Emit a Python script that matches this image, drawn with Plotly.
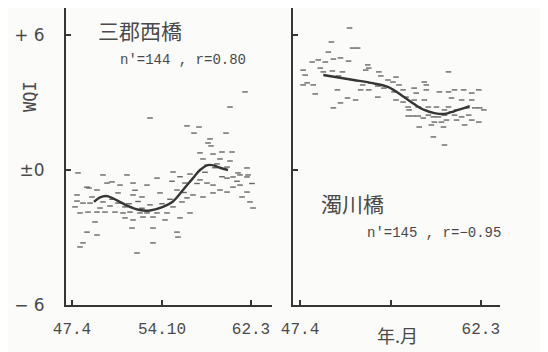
import plotly.graph_objects as go

# x values: months since Showa 47.4 (Apr 1972); y values: WQI
tick_months = [0, 90, 179]
tick_labels_left = ["47.4", "54.10", "62.3"]
tick_labels_right = ["47.4", "", "62.3"]
y_ticks = [-6, 0, 6]
y_tick_labels = ["\u2212 6", "\u00b10", "+ 6"]

# 三郡西橋 scatter
sanbu_month = [173,158,78,115,127,122,154,138,136,139,128,141,150,160,131,148,158,135,145,155,175,166,176,101,85,55,31,6,
               118,15,35,40,48,61,75,17,25,5,46,61,88,5,11,3,18,31,38,46,53,28,8,16,25,33,43,51,58,68,75,85,95,101,110,115,
               121,131,141,148,155,161,168,175,178,181,141,135,128,155,161,168,175,113,105,118,108,93,81,71,61,53,23,60,81,105,
               106,15,25,11,8,81,65,20,40,57,66,70,78,90,98,63,70,100,108,112,125,133,143,150,165,170,180]
sanbu_wqi = [3.47,2.8,2.31,1.96,1.91,1.64,1.64,1.38,1.2,1.07,0.76,0.71,0.8,0.8,0.49,0.49,0.4,0.22,0.27,0.13,0.09,-0.13,-0.22,-0.09,-0.36,-0.22,-0.22,-0.13,
             -0.18,-0.76,-0.58,-0.53,-0.67,-0.58,-0.67,-0.8,-0.89,-1.11,-1.02,-1.11,-1.02,-1.38,-1.47,-1.64,-1.47,-1.42,-1.6,-1.47,-1.64,-1.69,-1.91,-1.87,-1.87,-1.87,-1.87,-1.91,-1.87,-1.91,-1.91,-1.91,-1.91,-1.64,-1.42,-1.24,
             -1.11,-1.2,-1.02,-0.89,-0.98,-0.76,-0.67,-0.98,-1.42,-1.69,-0.67,-0.58,-0.44,-0.36,-0.31,-0.22,-0.31,-0.58,-0.89,-1.91,-2.13,-2.22,-2.09,-2.09,-2.22,-2.13,-2.31,-2.58,-2.58,-2.76,
             -2.98,-2.76,-2.89,-3.24,-3.42,-3.24,-3.69,-1.2,-1.3,-1.5,-1.4,-1.7,-1.55,-1.5,-1.3,-0.9,-1.2,-0.5,-0.3,-1.0,-0.6,-0.1,0.1,-0.3,-0.5,-1.2,-0.6]

# 三郡西橋 trend
sanbu_trend_month = [22,28,35,45,55,68,78,91,101,111,121,128,136,142,148,156]
sanbu_trend_wqi = [-1.42,-1.22,-1.16,-1.35,-1.58,-1.78,-1.8,-1.64,-1.4,-0.89,-0.36,0.0,0.22,0.2,0.1,0.0]

# 濁川橋 scatter
nigori_month = [49,31,28,52,57,3,5,12,18,25,33,40,48,7,13,15,3,20,23,32,42,67,68,65,78,80,87,95,92,98,38,47,53,62,70,77,83,
                60,68,37,47,55,40,33,102,105,115,107,108,113,123,125,125,147,138,147,153,162,170,177,150,160,170,173,178,182,
                107,112,117,122,127,132,137,143,153,160,167,133,140,145,155,170,177,118,130,142,163,132,143,127,135,147,155,165,
                117,143,150,93,77,95,123,113,102]
nigori_wqi = [6.31,5.69,5.24,5.42,5.42,4.44,4.22,4.8,4.89,4.8,4.93,4.98,4.84,3.87,3.78,3.38,3.78,4.53,4.36,4.4,4.36,4.67,4.53,4.44,4.36,4.18,4.0,4.13,3.91,3.78,4.18,4.04,4.0,3.78,3.87,3.73,3.64,
              3.56,3.56,3.56,3.2,3.11,2.98,2.76,3.56,3.24,3.42,2.8,2.67,3.11,3.11,3.56,3.78,4.36,3.47,3.47,3.56,3.56,3.42,3.56,3.2,3.11,3.11,2.76,2.76,2.67,
              2.4,2.4,2.4,2.31,2.44,2.36,2.36,2.44,2.44,2.36,2.44,2.13,2.13,2.22,2.22,2.22,2.13,1.91,2.0,1.91,2.0,1.47,1.11,2.8,2.8,2.8,2.67,2.76,
              2.8,2.67,2.58,3.47,3.24,3.11,3.91,3.64,3.02]

# 濁川橋 trend
nigori_trend_month = [23,53,70,87,103,113,123,133,143,153,168]
nigori_trend_wqi = [4.22,4.0,3.87,3.69,3.24,2.93,2.67,2.53,2.49,2.62,2.84]

# page body has an 8px default margin: size the figure to fit the 548x352 window
OFF = 8
W, H = 548 - OFF, 352 - OFF


def fx(px):
    return (px - OFF) / W


def fy(py):
    return 1 - (py - OFF) / H


DOT = "#666666"
INK = "#363636"
TXT = "#4a4a4a"

fig = go.Figure()
marker = dict(symbol="line-ew", size=4, color=DOT, line=dict(color=DOT, width=1.4))
fig.add_trace(go.Scatter(x=sanbu_month, y=sanbu_wqi, mode="markers", marker=marker, xaxis="x", yaxis="y"))
fig.add_trace(go.Scatter(x=sanbu_trend_month, y=sanbu_trend_wqi, mode="lines",
                         line=dict(color=INK, width=2.4, shape="spline"), xaxis="x", yaxis="y"))
fig.add_trace(go.Scatter(x=nigori_month, y=nigori_wqi, mode="markers", marker=marker, xaxis="x2", yaxis="y2"))
fig.add_trace(go.Scatter(x=nigori_trend_month, y=nigori_trend_wqi, mode="lines",
                         line=dict(color=INK, width=2.4, shape="spline"), xaxis="x2", yaxis="y2"))

# y axis: pixel 305 -> -6, 22.5 px per unit, top at pixel 8
ydom = [fy(305), 1.0]
ytop = -6 + (305 - 8) / 22.5
xfont = dict(family="Liberation Mono", size=16, color=TXT)
common_x = dict(showgrid=False, zeroline=False, showline=True, linecolor=INK, linewidth=2,
                ticks="inside", ticklen=5, tickwidth=1.5, tickcolor=INK, tickvals=tick_months,
                tickfont=xfont, ticklabelstandoff=8, fixedrange=True, automargin=False)
common_y = dict(showgrid=False, zeroline=False, showline=True, linecolor=INK, linewidth=2,
                ticks="inside", ticklen=5, tickwidth=1.5, tickcolor=INK, tickvals=y_ticks,
                range=[-6, ytop], domain=ydom, fixedrange=True, automargin=False)

fig.update_layout(
    width=W, height=H, margin=dict(l=0, r=0, t=0, b=0, autoexpand=False),
    paper_bgcolor="#fbfbfa", plot_bgcolor="rgba(0,0,0,0)", showlegend=False,
    xaxis=dict(common_x, domain=[fx(66), fx(272)], range=[-6, 200], ticktext=tick_labels_left, anchor="y"),
    yaxis=dict(common_y, ticktext=y_tick_labels, anchor="x", ticklabelstandoff=16,
               tickfont=dict(family="DejaVu Sans", size=17, color=TXT)),
    xaxis2=dict(common_x, domain=[fx(293), fx(500)], range=[-7, 198], ticktext=tick_labels_right, anchor="y2"),
    yaxis2=dict(common_y, showticklabels=False, anchor="x2"),
)

cjk = "Noto Sans CJK JP"
mono = "Liberation Mono"
ann = [
    dict(x=fx(30), y=fy(97), text="WQI", textangle=-90, font=dict(family="DejaVu Sans Mono", size=17, color=TXT)),
    dict(x=fx(140), y=fy(30), text="三郡西橋", font=dict(family=cjk, size=21, color=TXT)),
    dict(x=fx(183), y=fy(60), text="n\u2032=144 , r=0.80", font=dict(family=mono, size=14, color=TXT)),
    dict(x=fx(352), y=fy(203), text="濁川橋", font=dict(family=cjk, size=21, color=TXT)),
    dict(x=fx(434), y=fy(233), text="n\u2032=145 , r=\u22120.95", font=dict(family=mono, size=14, color=TXT)),
    dict(x=fx(397), y=fy(335), text="年.月", font=dict(family=cjk, size=18, color=TXT)),
]
for a in ann:
    a.update(xref="paper", yref="paper", showarrow=False, xanchor="center", yanchor="middle")
fig.update_layout(annotations=ann)

fig.write_html("out.html")
